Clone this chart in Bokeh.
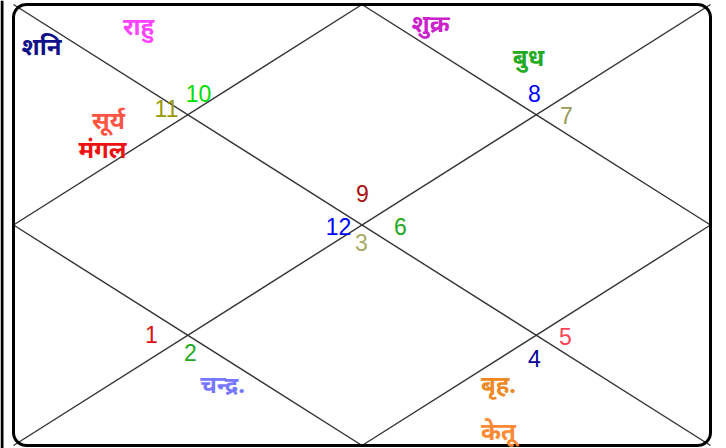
import numpy as np
from bokeh.plotting import figure
from bokeh.models import ColumnDataSource
from bokeh.core.properties import value
from bokeh.embed import file_html
from bokeh.resources import INLINE

# ---- data ----
house_numbers = ["1", "2", "3", "4", "5", "6", "7", "8", "9", "10", "11", "12"]
house_colors = ["#dd1111", "#22aa22", "#aaaa66", "#000099", "#ff4455", "#22aa22",
                "#999955", "#0000ff", "#aa1111", "#00dd00", "#999900", "#0000ff"]
planets = ["शनि", "राहु", "सूर्य", "मंगल", "शुक्र", "बुध", "चन्द्र.", "बृह.", "केतू"]
planet_colors = ["#10108a", "#ff44ff", "#ff5544", "#ee1111", "#cc22cc", "#22aa22",
                 "#7777ff", "#ee8822", "#ff8833"]

# ---- layout (screen coordinates of the reference) ----
house_pos = [(151, 334), (190, 352), (361, 242), (534, 358), (565, 336), (400, 226),
             (566, 115), (534, 93), (362, 193), (198, 93), (166, 108), (338, 226)]
planet_pos = [(41, 45), (138, 25), (108, 119), (102, 148), (430, 22), (528, 56),
              (222, 383), (498, 383), (498, 430)]

L, R, T, B = 13, 710, 4, 445

W, H = 726, 448
p = figure(width=W, height=H, x_range=(0, W), y_range=(H, 0),
           output_backend="svg", toolbar_location=None, min_border=0)
p.axis.visible = False
p.grid.visible = False
p.outline_line_color = None
p.background_fill_color = "white"

cx, cy = (L + R) / 2, (T + B) / 2

# diagonals and diamond
p.line([L, R], [T, B], line_color="#333333", line_width=1.4)
p.line([L, R], [B, T], line_color="#333333", line_width=1.4)
p.line([cx, R, cx, L, cx], [T, cy, B, cy, T], line_color="#333333", line_width=1.4)

# rounded frame
r = 13
xs, ys = [], []
corners = [(R - r, T + r, -90, 0), (R - r, B - r, 0, 90),
           (L + r, B - r, 90, 180), (L + r, T + r, 180, 270)]
for (ccx, ccy, a0, a1) in corners:
    a = np.radians(np.linspace(a0, a1, 12))
    xs += list(ccx + r * np.cos(a))
    ys += list(ccy + r * np.sin(a))
xs.append(xs[0]); ys.append(ys[0])
p.line(xs, ys, line_color="black", line_width=3)

# edge of the neighbouring frame at the far left
p.line([1.5, 1.5], [0, H], line_color="black", line_width=3)

hs = ColumnDataSource(dict(x=[q[0] for q in house_pos], y=[q[1] for q in house_pos],
                           t=house_numbers, c=house_colors))
p.text("x", "y", text="t", source=hs, text_color="c", text_font=value("Liberation Sans"),
       text_font_size="23px", text_align="center", text_baseline="middle")

ps = ColumnDataSource(dict(x=[q[0] for q in planet_pos], y=[q[1] for q in planet_pos],
                           t=planets, c=planet_colors))
p.text("x", "y", text="t", source=ps, text_color="c", text_font=value("Noto Sans"),
       text_font_size="24px", text_font_style="bold", text_align="center",
       text_baseline="middle")

open("out.html", "w").write(file_html(p, INLINE))
